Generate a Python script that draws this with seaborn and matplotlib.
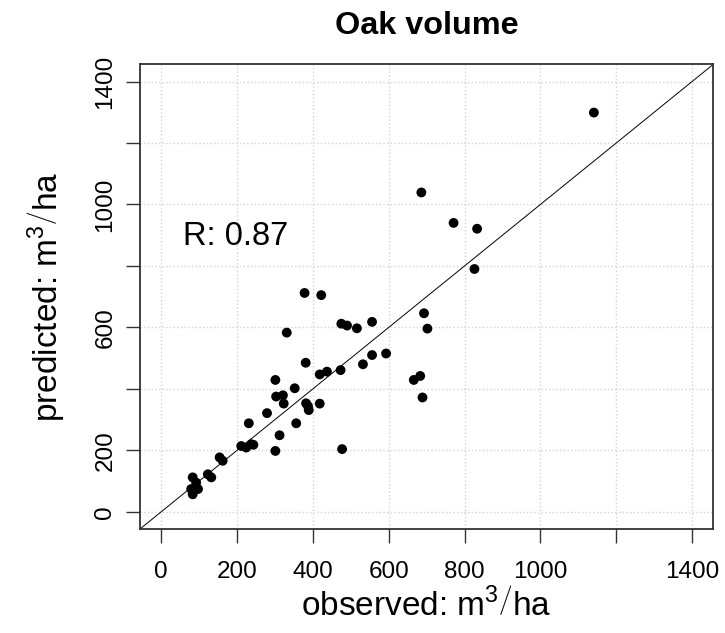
import pandas as pd
import seaborn as sns
import matplotlib
matplotlib.use("Agg")
import matplotlib.pyplot as plt

# values
observed = [83, 92, 79, 97, 83, 123, 132, 154, 162, 211, 224, 237, 243,
            301, 312, 231, 279, 356, 301, 303, 321, 323, 352, 382, 389, 387,
            418, 381, 331, 378, 422, 477, 418, 437, 473, 475, 490, 516, 556,
            532, 556, 593, 666, 683, 689, 686, 693, 702, 771, 833, 826, 1141]
predicted = [112, 95, 74, 74, 57, 122, 112, 177, 166, 214, 209, 220, 218,
             198, 249, 288, 321, 288, 429, 375, 379, 352, 402, 353, 331, 344,
             352, 485, 583, 712, 705, 204, 447, 456, 461, 612, 606, 597, 618,
             480, 510, 515, 429, 442, 372, 1039, 646, 596, 940, 921, 790, 1299]
r_value = 0.87
ticks = [0, 200, 400, 600, 800, 1000, 1200, 1400]
x_ticklabels = ["0", "200", "400", "600", "800", "1000", "", "1400"]
y_ticklabels = ["0", "200", "", "600", "", "1000", "", "1400"]

df = pd.DataFrame({"observed": observed, "predicted": predicted})

sns.set_style("white")
plt.rcParams["font.family"] = ["Liberation Sans", "DejaVu Sans"]
plt.rcParams["mathtext.fontset"] = "custom"
plt.rcParams["mathtext.rm"] = "Liberation Sans"
plt.rcParams["text.color"] = "black"
plt.rcParams["axes.labelcolor"] = "black"
plt.rcParams["xtick.color"] = "black"
plt.rcParams["ytick.color"] = "black"

unit = r"$\left.\mathrm{m}^{3}\right/\mathrm{ha}$"

fig = plt.figure(figsize=(7.25, 6.33), dpi=100)
ax = fig.add_axes([0.1931, 0.1643, 0.7908, 0.7341])

ax.grid(True, linestyle=":", color="lightgray", linewidth=1)
ax.set_axisbelow(True)
ax.axline((0, 0), slope=1, color="black", linewidth=0.7, zorder=2)
sns.scatterplot(data=df, x="observed", y="predicted", ax=ax, color="black",
                s=50, edgecolor="none", zorder=3)

ax.set_xlim(-56, 1456)
ax.set_ylim(-56, 1456)
ax.set_xticks(ticks)
ax.set_xticklabels(x_ticklabels)
ax.set_yticks(ticks)
ax.set_yticklabels(y_ticklabels, rotation=90, va="center")
ax.tick_params(axis="both", direction="out", length=10, width=1,
               color="#333333", labelsize=17.5, left=True, bottom=True)
ax.tick_params(axis="x", pad=13)
ax.tick_params(axis="y", pad=7)
for sp in ax.spines.values():
    sp.set_color("#333333")
    sp.set_linewidth(1.3)

ax.set_xlabel("observed: " + unit, fontsize=24, labelpad=4)
ax.set_ylabel("predicted: " + unit, fontsize=24, labelpad=20)
ax.text(195, 895, f"R: {r_value}", fontsize=23.5, ha="center", va="center")
fig.text(426.6 / 725, 1 - 26 / 633, "Oak volume", fontsize=23.3, fontweight="bold",
         ha="center", va="center")

fig.savefig("out.png", dpi=100)
